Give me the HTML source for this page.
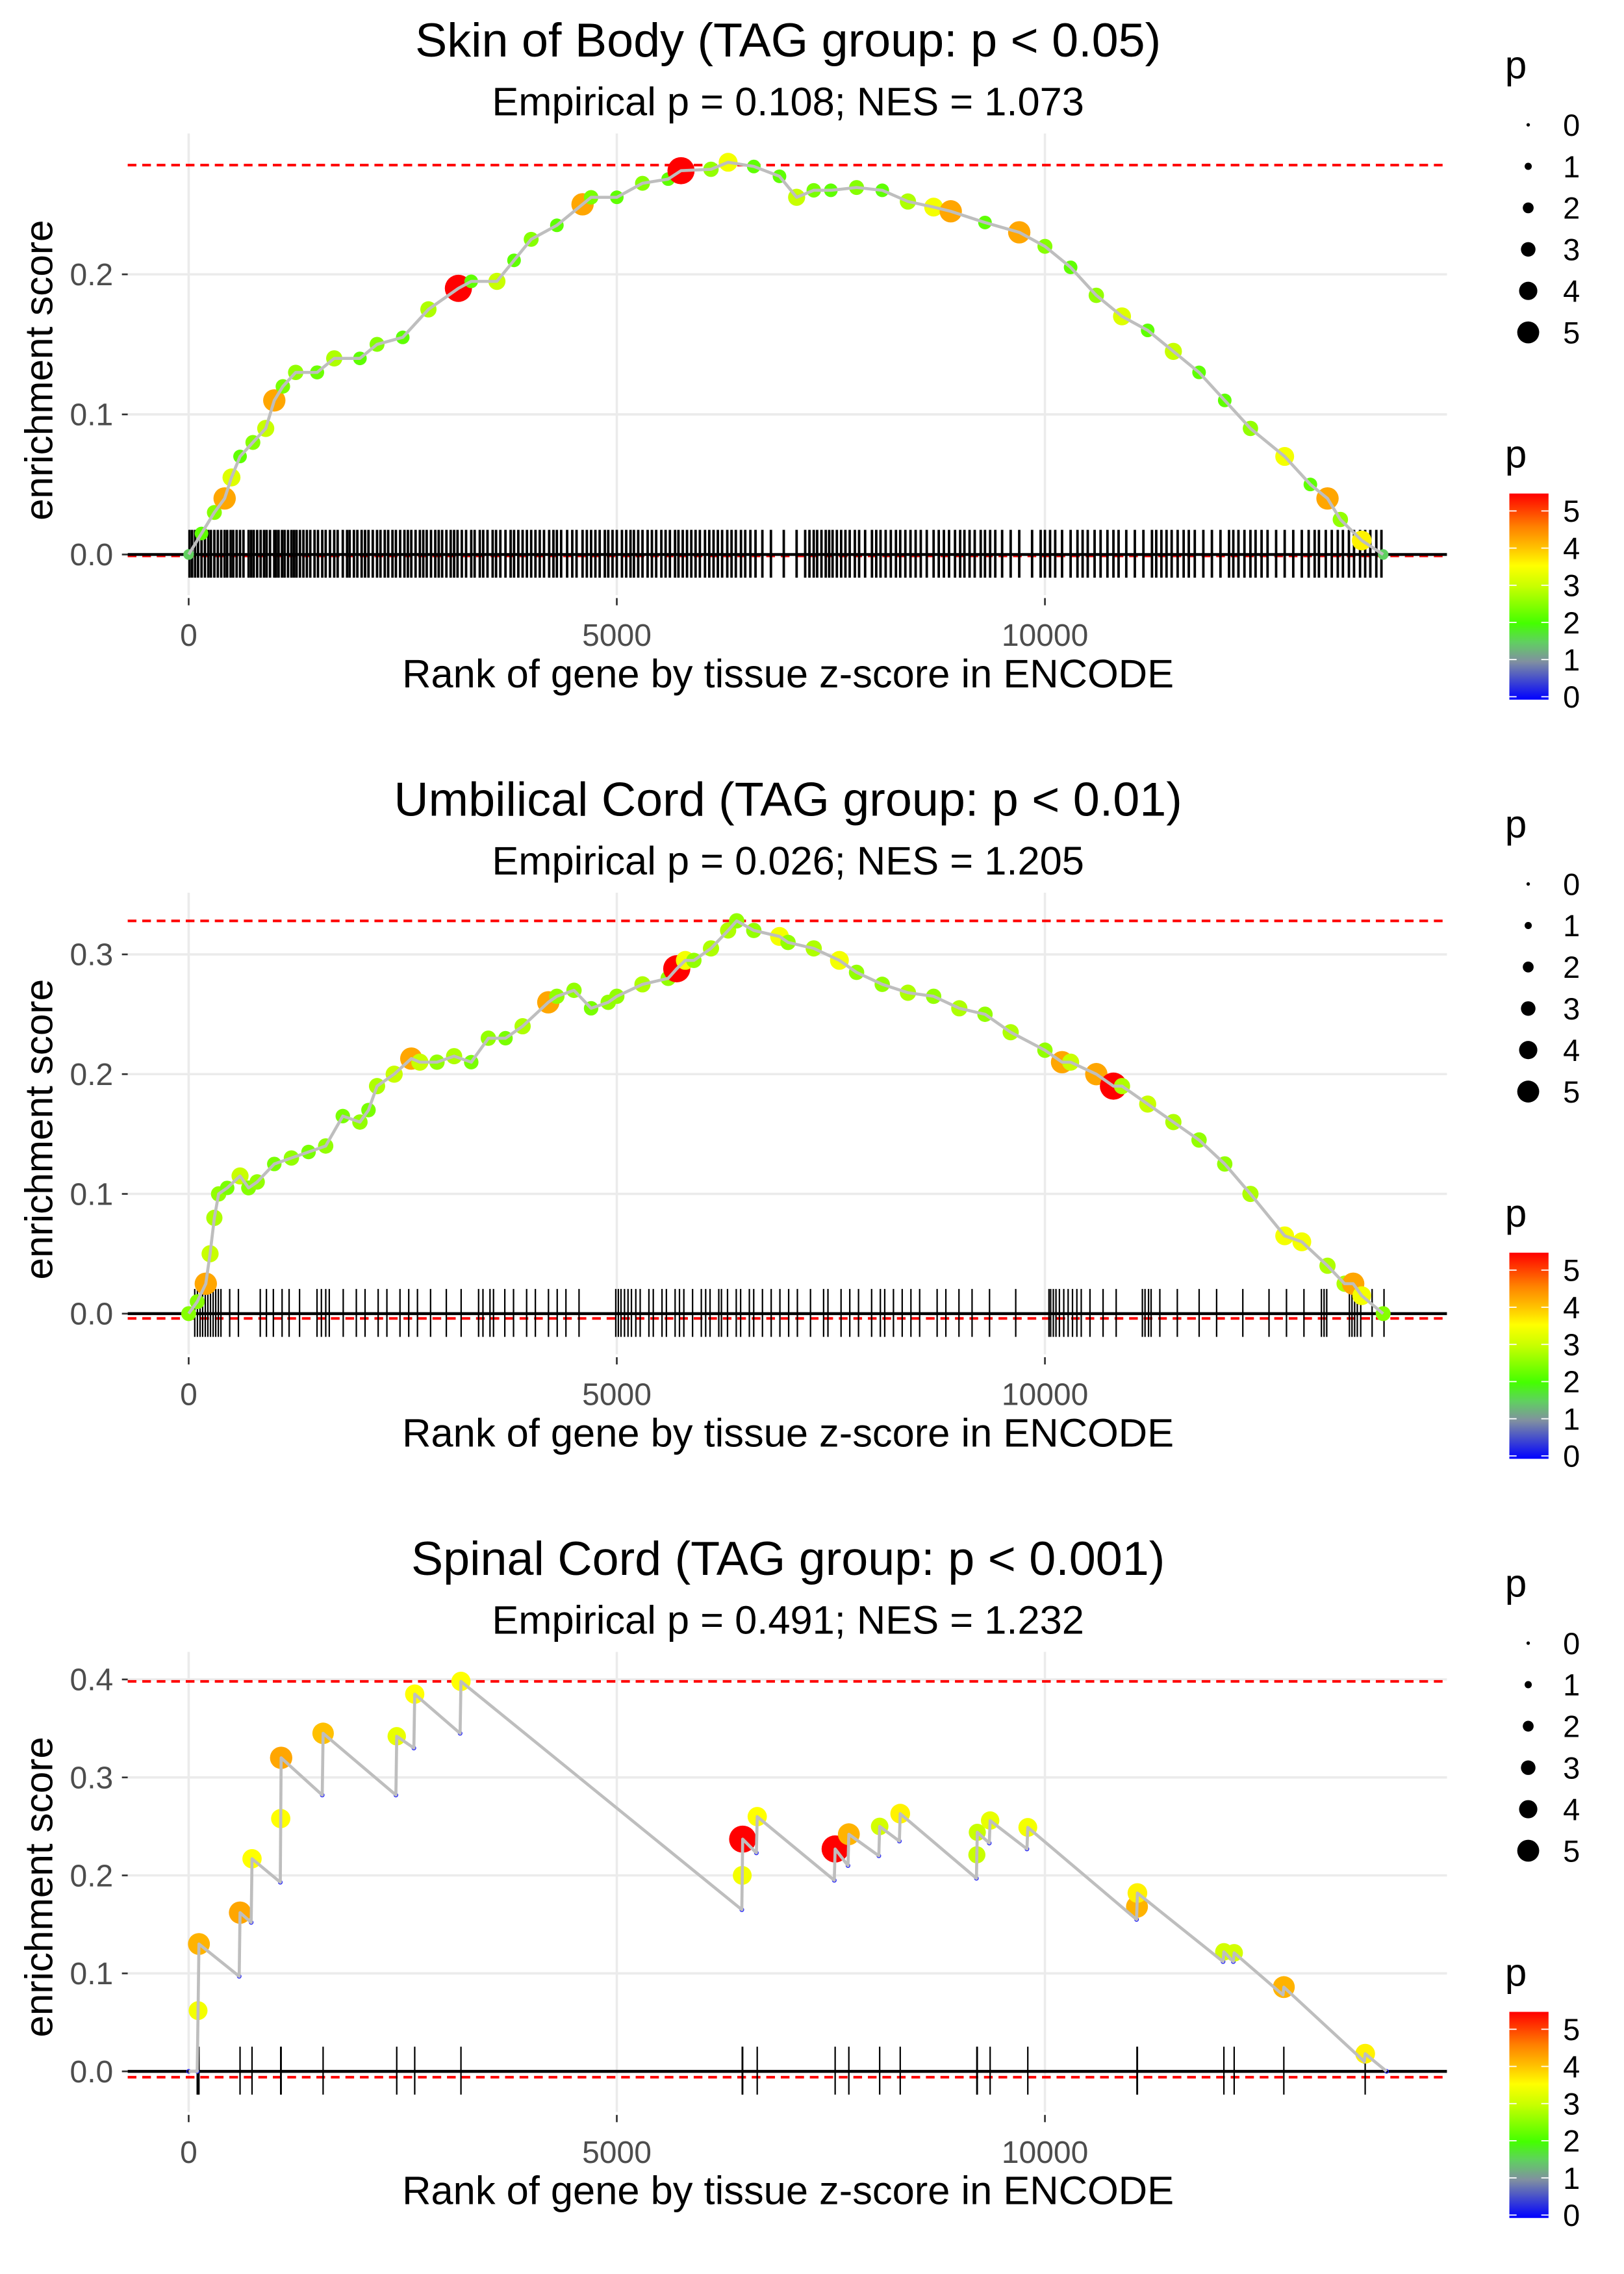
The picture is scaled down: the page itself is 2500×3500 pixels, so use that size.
<!DOCTYPE html>
<html><head><meta charset="utf-8"><style>
html,body{margin:0;padding:0;background:#fff}
svg{display:block}
text{font-family:"Liberation Sans",sans-serif}
</style></head><body>
<svg id="chart" width="2500" height="3500" viewBox="0 0 1119 1566.6" xmlns="http://www.w3.org/2000/svg">
<defs>
<linearGradient id="pgrad" x1="0" y1="1" x2="0" y2="0">
<stop offset="0" stop-color="#0000ff"/>
<stop offset="0.185" stop-color="#8090a0"/>
<stop offset="0.28" stop-color="#60d060"/>
<stop offset="0.37" stop-color="#44ff00"/>
<stop offset="0.55" stop-color="#c8ff00"/>
<stop offset="0.65" stop-color="#ffff00"/>
<stop offset="0.74" stop-color="#ffc000"/>
<stop offset="0.84" stop-color="#ff8000"/>
<stop offset="1" stop-color="#ff0000"/>
</linearGradient>
</defs>
</svg>
<script>
// ---- data ----
const titles = ["Skin of Body (TAG group: p < 0.05)","Umbilical Cord (TAG group: p < 0.01)","Spinal Cord (TAG group: p < 0.001)"];
const subtitles = ["Empirical p = 0.108; NES = 1.073","Empirical p = 0.026; NES = 1.205","Empirical p = 0.491; NES = 1.232"];
const xTicks = [0,5000,10000];
const yTicks1 = [0,0.1,0.2];
const yTicks2 = [0,0.1,0.2,0.3];
const yTicks3 = [0,0.1,0.2,0.3,0.4];
const esMax = [0.278,0.328,0.398];
const esMin = [-0.001,-0.004,-0.006];

const rank1 = [0,150,300,420,500,600,750,900,1000,1100,1250,1500,1700,2000,2200,2500,2800,3150,3300,3600,3800,4000,4300,4600,4700,5000,5300,5600,5750,6100,6300,6600,6900,7100,7300,7500,7800,8100,8400,8700,8900,9300,9700,10000,10300,10600,10900,11200,11500,11800,12100,12400,12800,13100,13300,13450,13700,13950];
const es1 =   [0,0.015,0.03,0.04,0.055,0.07,0.08,0.09,0.11,0.12,0.13,0.13,0.14,0.14,0.15,0.155,0.175,0.19,0.195,0.195,0.21,0.225,0.235,0.25,0.255,0.255,0.265,0.268,0.274,0.275,0.28,0.277,0.27,0.255,0.26,0.26,0.262,0.26,0.252,0.248,0.245,0.237,0.23,0.22,0.205,0.185,0.17,0.16,0.145,0.13,0.11,0.09,0.07,0.05,0.04,0.025,0.01,0];
const p1 =    [1.5,2.2,2.5,4.2,3.2,2.2,2.5,3,4.2,2.4,2.6,2.3,2.8,2.2,2.5,2.2,2.8,5.3,2.2,3,2.2,2.5,2.2,4.2,2.4,2.2,2.5,2.2,5.3,2.6,3.4,2.2,2.2,3,2.4,2.2,2.5,2.2,2.8,3.4,4.2,2.2,4.2,2.5,2.2,2.6,3.2,2.2,3,2.2,2.2,2.6,3.4,2.2,4.2,2.6,3.6,1.5];
const bar1 = [10,40,75,110,150,190,230,260,300,340,380,420,450,490,520,560,600,640,700,730,760,800,840,880,910,950,1000,1020,1050,1090,1120,1160,1200,1230,1260,1300,1340,1380,1420,1470,1510,1560,1600,1650,1700,1740,1800,1850,1880,1930,1970,2020,2060,2100,2150,2200,2240,2290,2330,2380,2420,2470,2520,2560,2600,2650,2700,2740,2780,2830,2880,2920,2960,3010,3060,3100,3140,3190,3240,3300,3340,3400,3440,3490,3550,3590,3640,3700,3760,3800,3850,3900,3950,4000,4050,4100,4150,4210,4260,4300,4350,4420,4480,4530,4600,4650,4700,4750,4800,4860,4900,4950,5000,5060,5110,5160,5200,5250,5300,5360,5410,5460,5520,5570,5620,5680,5720,5770,5820,5870,5920,5970,6030,6080,6130,6180,6230,6290,6340,6390,6450,6500,6560,6620,6700,6800,6950,7100,7200,7250,7300,7340,7390,7440,7480,7520,7570,7620,7670,7720,7780,7830,7900,7980,8030,8080,8140,8200,8260,8310,8370,8430,8490,8550,8620,8700,8760,8820,8880,8950,9010,9060,9120,9180,9250,9300,9360,9420,9500,9600,9700,9850,9950,10000,10060,10120,10200,10300,10380,10440,10500,10580,10650,10730,10800,10860,10950,11050,11150,11250,11300,11360,11420,11480,11550,11620,11680,11750,11850,11950,12050,12150,12200,12260,12330,12400,12460,12530,12600,12700,12800,12900,13000,13080,13150,13200,13280,13350,13420,13480,13550,13610,13680,13740,13800,13870,13930];

const rank2 = [0,100,200,250,300,350,450,600,700,800,1000,1200,1400,1600,1800,2000,2100,2200,2400,2600,2700,2900,3100,3300,3500,3700,3900,4200,4300,4500,4700,4900,5000,5300,5600,5700,5800,5900,6100,6300,6400,6600,6900,7000,7300,7600,7800,8100,8400,8700,9000,9300,9600,10000,10200,10300,10600,10800,10900,11200,11500,11800,12100,12400,12800,13000,13300,13500,13600,13700,13950];
const es2 =   [0,0.01,0.025,0.05,0.08,0.1,0.105,0.115,0.105,0.11,0.125,0.13,0.135,0.14,0.165,0.16,0.17,0.19,0.2,0.213,0.21,0.21,0.215,0.21,0.23,0.23,0.24,0.26,0.265,0.27,0.255,0.26,0.265,0.275,0.28,0.288,0.295,0.295,0.305,0.32,0.328,0.32,0.315,0.31,0.305,0.295,0.285,0.275,0.268,0.265,0.255,0.25,0.235,0.22,0.21,0.21,0.2,0.19,0.19,0.175,0.16,0.145,0.125,0.1,0.065,0.06,0.04,0.025,0.025,0.015,0];
const p2 =    [2.5,2.5,4.2,3,2.8,2.6,2.4,3,2.5,2.6,2.4,2.6,2.4,2.6,2.4,2.6,2.4,2.8,3,4.2,3,2.6,2.8,2.4,2.6,2.4,2.8,4.2,2.6,2.6,2.4,2.6,2.6,2.8,2.6,5.3,3.4,2.6,2.8,2.8,2.6,2.6,3.4,2.6,2.8,3.4,2.6,2.6,2.8,2.6,2.8,2.6,2.8,2.6,4.2,3,4.2,5.3,2.8,3,2.8,2.6,2.6,2.8,3.4,3.4,2.8,2.8,4.2,3.4,2.5];
const bar2 = [71,102,133,163,194,224,255,286,316,347,377,479,581,836,908,989,1091,1173,1295,1499,1550,1601,1642,1805,1958,2060,2213,2315,2468,2570,2672,2825,3009,3182,3386,3437,3519,3560,3692,3794,3947,4049,4202,4304,4406,4559,4988,5018,5049,5090,5131,5171,5222,5273,5375,5426,5528,5579,5681,5732,5783,5885,5987,6038,6089,6191,6222,6293,6395,6446,6548,6599,6701,6803,6905,7007,7109,7262,7415,7466,7619,7721,7823,7976,8078,8129,8231,8333,8435,8537,8741,8843,8996,9149,9353,9659,10047,10067,10098,10129,10169,10220,10271,10322,10373,10424,10526,10679,10832,11138,11169,11210,11240,11342,11546,11801,12005,12311,12617,12821,13025,13229,13260,13291,13556,13586,13617,13648,13688,13821,13960];

const rank3 = [0,100,110,120,590,600,730,740,1070,1075,1080,1560,1570,2420,2430,2630,2640,3170,3180,6460,6465,6470,6630,6640,7540,7550,7700,7710,8060,8070,8300,8310,9200,9205,9210,9350,9360,9790,9800,11070,11075,11080,12080,12090,12200,12210,12780,12790,13730,13740,13990];
const es3 =   [0,0.0,0.062,0.13,0.097,0.162,0.152,0.217,0.193,0.258,0.32,0.282,0.345,0.282,0.342,0.33,0.385,0.345,0.398,0.165,0.2,0.237,0.223,0.26,0.195,0.227,0.21,0.242,0.22,0.25,0.235,0.263,0.197,0.221,0.244,0.233,0.256,0.227,0.249,0.155,0.168,0.182,0.112,0.122,0.112,0.121,0.078,0.086,0.01,0.018,0];
const p3 =    [0,0,3.4,4.1,0,4.2,0,3.5,0,3.5,4.2,0,4.0,0,3.3,0,3.5,0,3.5,0,3.4,5.3,0,3.5,0,5.3,0,4.1,0,3.1,0,3.6,0,3.0,3.0,0,3.3,0,3.4,0,4.1,3.6,0,3.1,0,3.1,0,4.1,0,3.6,0];
const bar3 = [100,110,120,600,740,1075,1080,1570,2430,2640,3180,6465,6470,6640,7550,7710,8070,8310,9205,9210,9360,9800,11075,11080,12090,12210,12790,13740];

const legendSizes = [0,1,2,3,4,5];
const legendColorTicks = [0,1,2,3,4,5];

// ---- helpers ----
const NS = "http://www.w3.org/2000/svg";
const svg = document.getElementById("chart");
function mk(tag, attrs, parent){
  const e = document.createElementNS(NS, tag);
  for (const k in attrs) e.setAttribute(k, attrs[k]);
  (parent||svg).appendChild(e);
  return e;
}
const stops = [[0,[0,0,255]],[1,[128,144,160]],[1.5,[96,208,96]],[2,[68,255,0]],[3,[200,255,0]],[3.5,[255,255,0]],[4,[255,192,0]],[4.5,[255,128,0]],[5.3,[255,0,0]]];
function pColor(p){
  if (p<=0) return "rgb(0,0,255)";
  for (let i=1;i<stops.length;i++){
    if (p<=stops[i][0]){
      const a=stops[i-1], b=stops[i], t=(p-a[0])/(b[0]-a[0]);
      const c=a[1].map((v,j)=>Math.round(v+(b[1][j]-v)*t));
      return `rgb(${c[0]},${c[1]},${c[2]})`;
    }
  }
  return "rgb(255,0,0)";
}
function pRadius(p){ return 1.4 + 1.5*p; }

const panels = [
  {off:0, perTenth:96.5, yTicks:yTicks1, ranks:rank1, es:es1, p:p1, bar:bar1, ycenter:255, zy:382, top:92, bw:1.7},
  {off:523, perTenth:82.5, yTicks:yTicks2, ranks:rank2, es:es2, p:p2, bar:bar2, ycenter:778, zy:905, top:615, bw:1},
  {off:1046, perTenth:67.5, yTicks:yTicks3, ranks:rank3, es:es3, p:p3, bar:bar3, ycenter:1300, zy:1427, top:1138, bw:1}
];
const X0=130, XPER=295/5000, LEFT=88, RIGHT=997;
function xs(r){ return X0 + r*XPER; }

panels.forEach((P, i)=>{
  const off=P.off, zy=P.zy, top=P.top, bottom=zy+20;
  function ys(v){ return zy - v*P.perTenth*10; }
  const g = mk("g",{});
  
  

  const t = mk("text",{x:543,y:39+off,"text-anchor":"middle","font-size":33,fill:"#000"},g);
  t.textContent = titles[i];
  
  
  const st = mk("text",{x:543,y:79.5+off,"text-anchor":"middle","font-size":27.5,fill:"#000"},g);
  st.textContent = subtitles[i];
  
  

  P.yTicks.forEach(v=>{
    const l=mk("line",{x1:LEFT,x2:RIGHT,y1:ys(v),y2:ys(v),stroke:"#ebebeb","stroke-width":1.6},g);
    
    
    const tk=mk("line",{x1:84,x2:88,y1:ys(v),y2:ys(v),stroke:"#333","stroke-width":1.2},g);
    
    
    const tl=mk("text",{x:78,y:ys(v)+7.5,"text-anchor":"end","font-size":21.5,fill:"#4d4d4d"},g);
    tl.textContent = v.toFixed(1);
    
    
  });
  xTicks.forEach(v=>{
    const l=mk("line",{x1:xs(v),x2:xs(v),y1:top,y2:bottom+8,stroke:"#ebebeb","stroke-width":1.6},g);
    
    
    const tk=mk("line",{x1:xs(v),x2:xs(v),y1:bottom+10,y2:bottom+15,stroke:"#333","stroke-width":1.2},g);
    
    
    const tl=mk("text",{x:xs(v),y:zy+63,"text-anchor":"middle","font-size":21.5,fill:"#4d4d4d"},g);
    tl.textContent = String(v);
    
    
  });

  [esMax[i], esMin[i]].forEach(v=>{
    const d=mk("line",{x1:LEFT,x2:RIGHT,y1:ys(v),y2:ys(v),stroke:"#ff0000","stroke-width":1.8,"stroke-dasharray":"6,4"},g);
    
    
  });

  const bc = mk("g",{},g);
  
  
  P.bar.forEach(r=>{
    const b=mk("line",{x1:xs(r),x2:xs(r),y1:zy-17,y2:zy+16,stroke:"#000","stroke-width":P.bw},bc);
    
    
  });
  const zl=mk("line",{x1:LEFT,x2:RIGHT,y1:zy,y2:zy,stroke:"#000","stroke-width":2},g);
  
  

  const pts = mk("g",{},g);
  
  
  P.ranks.forEach((r,k)=>{
    const pv=P.p[k];
    const c=mk("circle",{cx:xs(r),cy:ys(P.es[k]),r:pv>0?pRadius(pv):1.3,fill:pv>0?pColor(pv):"none",stroke:pv>0?"none":"#2020ff","stroke-width":0.6},pts);
    
    
  });
  const d = P.ranks.map((r,k)=>(k?"L":"M")+xs(r).toFixed(2)+","+ys(P.es[k]).toFixed(2)).join(" ");
  const pl=mk("path",{d:d,fill:"none",stroke:"#bebebe","stroke-width":2.1,"stroke-linejoin":"round"},g);
  
  

  const xt=mk("text",{x:543,y:zy+91.5,"text-anchor":"middle","font-size":27.5,fill:"#000"},g);
  xt.textContent="Rank of gene by tissue z-score in ENCODE";
  
  
  const yt=mk("text",{x:0,y:0,"text-anchor":"middle","font-size":27,fill:"#000",transform:`translate(36,${P.ycenter}) rotate(-90)`},g);
  yt.textContent="enrichment score";
  
  

  const sl = mk("g",{},g);
  
  
  const slt=mk("text",{x:1037,y:54+off,"font-size":27,fill:"#000"},sl);
  slt.textContent="p";
  
  
  legendSizes.forEach((s,k)=>{
    const cy = 86+off+k*28.6;
    const c=mk("circle",{cx:1053,cy:cy,r:pRadius(s)*0.85,fill:"#000"},sl);
    
    
    const tl=mk("text",{x:1077,y:cy+7.5,"font-size":21,fill:"#000"},sl);
    tl.textContent=String(s);
    
    
  });

  const cl = mk("g",{},g);
  
  
  const clt=mk("text",{x:1037,y:322+off,"font-size":27,fill:"#000"},cl);
  clt.textContent="p";
  
  
  const barTop=340+off, barBot=482+off;
  const rc=mk("rect",{x:1040,y:barTop,width:27,height:barBot-barTop,fill:"url(#pgrad)"},cl);
  
  
  legendColorTicks.forEach(v=>{
    const y = barBot-2 - v*25.6;
    const a=mk("line",{x1:1040,x2:1045,y1:y,y2:y,stroke:"#fff","stroke-width":0.8},cl);
    
    
    const b=mk("line",{x1:1062,x2:1067,y1:y,y2:y,stroke:"#fff","stroke-width":0.8},cl);
    
    
    const tl=mk("text",{x:1077,y:y+7.5,"font-size":21,fill:"#000"},cl);
    tl.textContent=String(v);
    
    
  });
});
</script>
</body></html>
